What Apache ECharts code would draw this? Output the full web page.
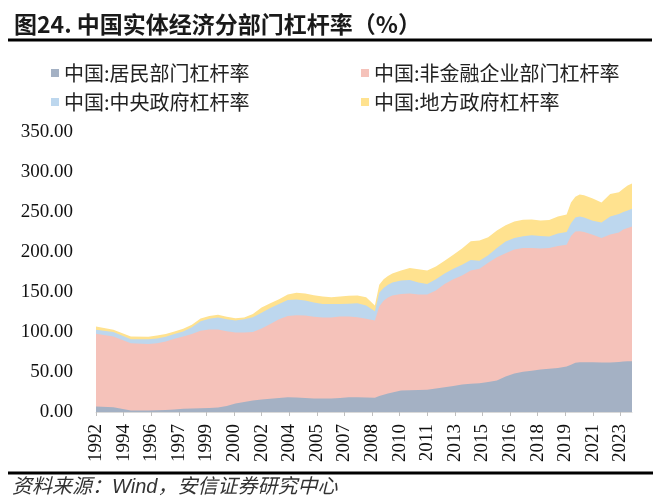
<!DOCTYPE html>
<html>
<head>
<meta charset="utf-8">
<script src="https://cdn.jsdelivr.net/npm/echarts@6/dist/echarts.min.js"></script>
<style>html,body{margin:0;padding:0;background:#fff}#c{width:656px;height:500px}</style>
</head>
<body>
<div id="c"></div>
<script>
// Period (year-month) of each observation
const dates = ['1992-12','1993-12','1994-12','1995-12','1996-06','1996-12','1997-06','1997-12','1998-06','1998-12',
  '1999-06','1999-12','2000-06','2000-12','2001-06','2001-12','2002-06','2002-12','2003-06','2003-12',
  '2004-06','2004-12','2005-06','2005-12','2006-06','2006-12','2007-06','2007-12','2008-06','2008-12',
  '2009-03','2009-06','2009-09','2009-12','2010-06','2010-12','2011-06','2011-12','2012-06','2012-12',
  '2013-06','2013-12','2014-06','2014-12','2015-06','2015-12','2016-06','2016-12','2017-06','2017-12',
  '2018-06','2018-12','2019-06','2019-12','2020-03','2020-06','2020-09','2020-12','2021-06','2021-12',
  '2022-06','2022-12','2023-03','2023-06','2023-09'];
// 中国:居民部门杠杆率
const household = [6.9,6.0,1.9,1.9,2.2,2.5,3.2,4.0,4.4,4.8,
  5.0,5.5,7.5,10.5,12.5,14.4,15.5,16.5,17.5,18.3,
  18.0,17.4,17.0,17.0,17.0,17.5,18.3,18.3,18.0,17.7,
  20.0,21.5,23.0,24.5,27.0,27.3,27.5,27.7,29.5,31.0,
  32.5,34.4,35.2,36.0,37.5,39.4,44.5,48.0,50.3,51.5,
  53.0,54.0,55.0,57.0,59.0,61.5,62.3,62.3,62.3,62.0,
  61.9,62.6,63.0,63.3,63.5];
// 中国:非金融企业部门杠杆率
const corporate = [90.8,88.4,84.1,83.1,83.8,85.5,88.3,90.5,93.1,96.7,
  98.0,97.5,93.5,88.9,87.0,85.6,89.0,93.5,98.5,101.7,
  103.0,103.1,102.0,101.0,101.0,102.0,101.0,100.2,98.5,96.7,
  112.0,117.5,120.0,121.0,120.5,120.7,119.5,119.3,122.5,129.0,
  133.5,136.1,141.8,143.0,149.0,154.1,154.0,155.0,154.7,153.5,
  151.5,151.0,152.5,152.0,161.0,164.0,163.7,162.7,159.2,155.5,
  160.0,161.9,165.0,166.7,168.5];
// 中国:中央政府杠杆率
const centralGov = [5.0,5.6,5.0,6.0,6.0,6.0,6.0,6.0,8.5,12.0,
  13.5,15.0,15.0,15.1,16.5,18.5,19.5,20.0,19.0,20.0,
  19.5,19.0,18.0,17.0,17.0,15.5,16.0,17.5,16.5,11.6,
  17.0,16.0,16.0,16.5,17.0,17.0,15.0,13.0,14.0,13.0,
  13.0,13.5,13.0,10.0,9.5,11.5,14.5,14.5,14.7,16.0,
  15.5,14.5,15.5,16.0,16.0,17.5,18.5,18.0,17.5,19.5,
  22.5,23.0,22.0,22.0,22.0];
// 中国:地方政府杠杆率
const localGov = [4.3,2.7,3.4,3.2,3.5,3.5,3.0,3.5,3.0,3.5,
  3.5,3.5,3.0,2.7,2.0,4.0,6.5,6.0,6.0,7.0,
  8.5,8.5,9.0,9.5,8.5,9.4,10.0,9.6,10.5,7.0,
  10.0,11.0,11.0,11.0,12.5,15.0,16.5,17.0,16.0,16.0,
  17.5,20.5,23.5,25.3,22.5,22.0,20.5,20.5,20.5,19.5,
  19.5,20.5,21.5,22.0,26.0,26.0,27.5,28.0,28.0,25.0,
  28.0,27.2,29.0,31.0,31.5];
// x-axis tick dates and their labels
const tickDates = ['1992-12','1994-07','1996-02','1997-09','1999-04','2000-11','2002-06','2004-01','2005-08','2007-03',
  '2008-10','2010-05','2011-12','2013-07','2015-02','2016-09','2018-04','2019-11','2021-06','2023-01'];
const tickLabels = ['1992','1994','1996','1997','1999','2000','2002','2004','2005','2007',
  '2008','2010','2011','2013','2015','2016','2018','2019','2021','2023'];
const yTicks = [0,50,100,150,200,250,300,350];

const seriesNames = ['中国:居民部门杠杆率','中国:非金融企业部门杠杆率','中国:中央政府杠杆率','中国:地方政府杠杆率'];
const colors = ['#A4B1C4','#F5C2BA','#BDD7EE','#FFE28F'];

function monthIndex(s){ const p = s.split('-'); return (+p[0]-1992)*12 + (+p[1]-12); }
const tickVals = tickDates.map(monthIndex);
const xs = dates.map(monthIndex);

// stacked (cumulative) tops, bottom-up
const layers = [household, corporate, centralGov, localGov];
const cum = [];
layers.forEach((arr, i) => {
  cum.push(arr.map((v, k) => (i ? cum[i-1][k] : 0) + v));
});

function mk(i){
  return {
    name: seriesNames[i], type:'line',
    data: xs.map((x,k)=>[x, +cum[i][k].toFixed(2)]),
    symbol:'none', showSymbol:false,
    lineStyle:{width:0}, areaStyle:{color:colors[i], opacity:1, origin:'start'},
    itemStyle:{color:colors[i]}, emphasis:{disabled:true},
    z: 10 - i
  };
}

const chart = echarts.init(document.getElementById('c'), null, {renderer:'canvas'});
const legendText = {fontSize:20, fontFamily:"'Noto Sans CJK SC'", color:'#222', lineHeight:20};
chart.setOption({
  animation:false,
  backgroundColor:'#fff',
  title:{text:'图24. 中国实体经济分部门杠杆率（%）', left:9, top:8,
    textStyle:{fontSize:23, fontWeight:'bold', color:'#1a1a1a', fontFamily:"'Noto Sans CJK SC'"}},
  legend:[
    {left:46, top:58, orient:'vertical', itemGap:9, itemWidth:8, itemHeight:8, icon:'rect',
      data:[seriesNames[0], seriesNames[2]], textStyle:legendText, selectedMode:false},
    {left:356, top:58, orient:'vertical', itemGap:9, itemWidth:8, itemHeight:8, icon:'rect',
      data:[seriesNames[1], seriesNames[3]], textStyle:legendText, selectedMode:false}
  ],
  grid:{left:96, right:24, top:132, bottom:88, containLabel:false},
  xAxis:{type:'value', min:0, max:xs[xs.length-1],
    axisLine:{show:true, lineStyle:{color:'#D9D9D9', width:1}},
    axisTick:{show:true, customValues:tickVals, length:4, lineStyle:{color:'#BFBFBF'}},
    axisLabel:{customValues:tickVals, rotate:90, margin:12,
      formatter:(v)=>{const k=tickVals.indexOf(v); return k>=0?tickLabels[k]:'';},
      fontFamily:"'Liberation Serif'", fontSize:19, color:'#111'},
    splitLine:{show:false}},
  yAxis:{type:'value', min:yTicks[0], max:yTicks[yTicks.length-1], interval:50,
    axisLine:{show:false}, axisTick:{show:false}, splitLine:{show:false},
    axisLabel:{formatter:(v)=>v.toFixed(2), margin:23, fontFamily:"'Liberation Serif'", fontSize:19, color:'#111'}},
  graphic:[
    {type:'line', shape:{x1:8,y1:40,x2:652,y2:40}, style:{stroke:'#000', lineWidth:3}},
    {type:'line', shape:{x1:8,y1:473,x2:653,y2:473}, style:{stroke:'#000', lineWidth:3}},
    {type:'text', left:12, top:477, style:{text:'资料来源：Wind，安信证券研究中心',
      font:"italic 20px 'Liberation Sans','Noto Sans CJK SC'", fill:'#333'}}
  ],
  series:[mk(3), mk(2), mk(1), mk(0)]
});
</script>
</body>
</html>
